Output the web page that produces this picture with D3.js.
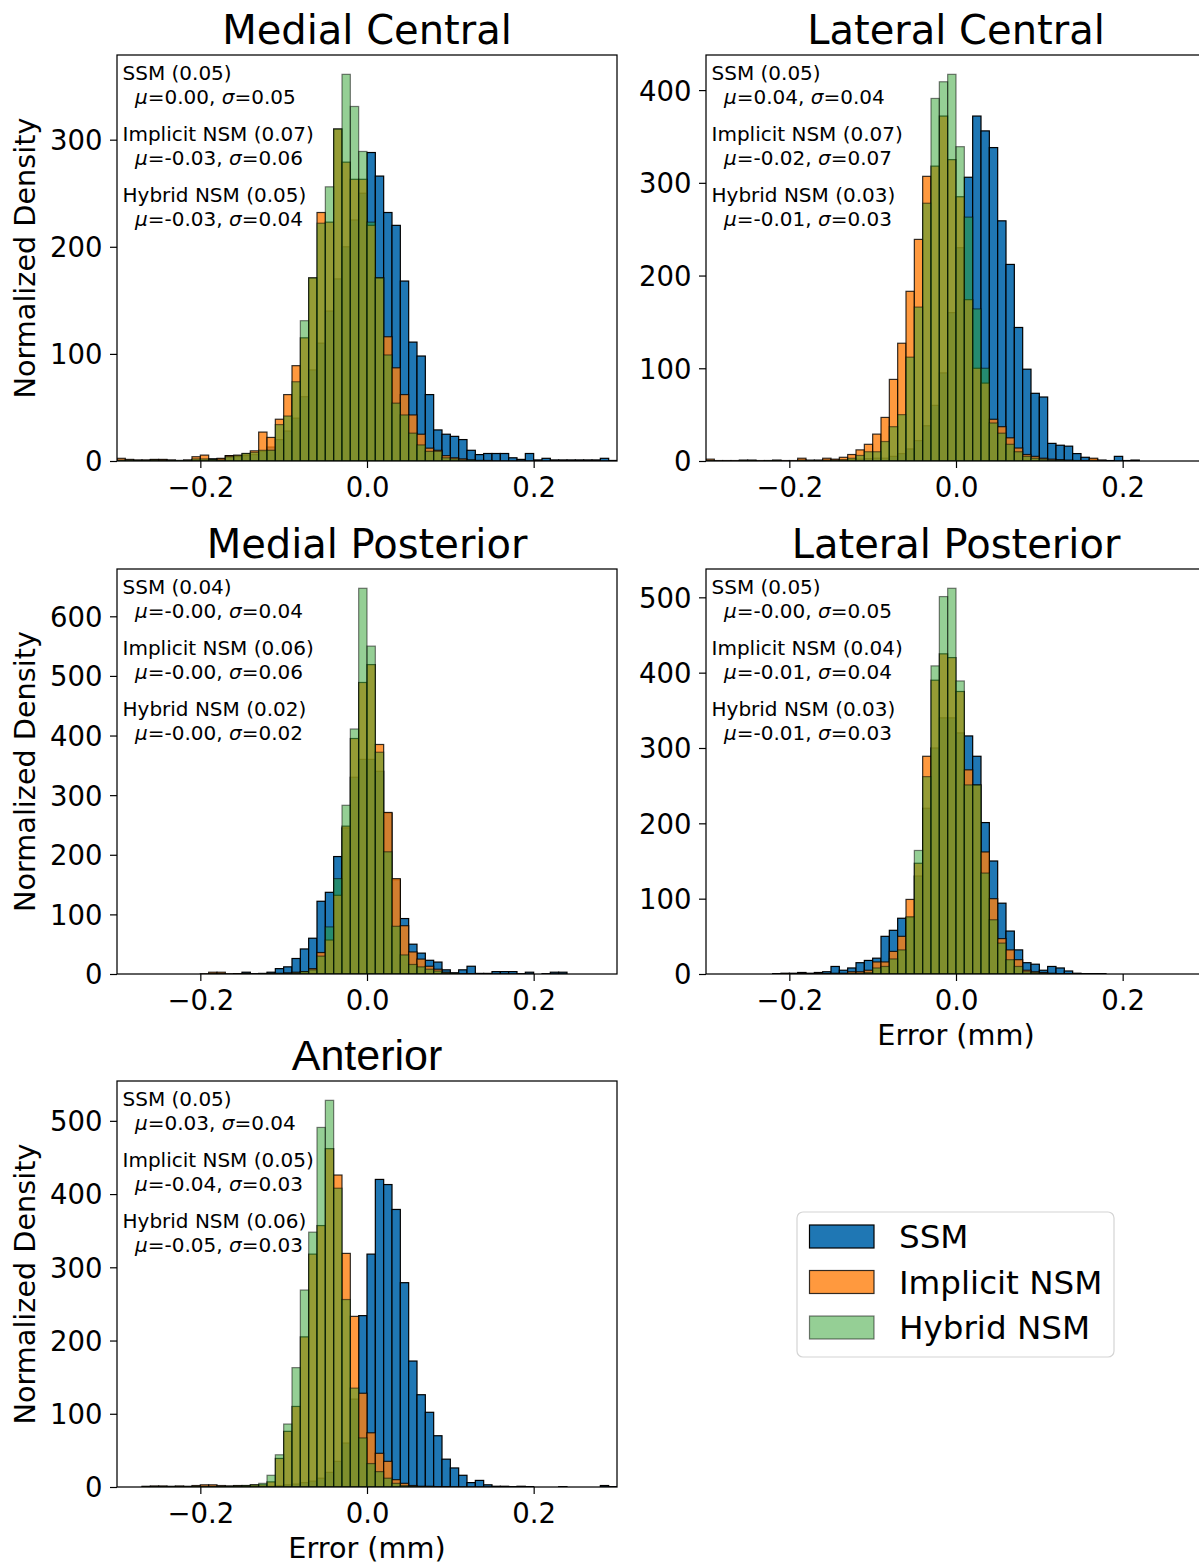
<!DOCTYPE html>
<html>
<head>
<meta charset="utf-8">
<script src="https://cdn.jsdelivr.net/npm/d3@7"></script>
<style>
  html, body { margin: 0; padding: 0; background: #fff; }
  svg { display: block; }
</style>
</head>
<body>
<div id="chart"></div>
<script>
// ---------------- DATA ----------------
// Histogram bins of width 0.01 from -0.30 to 0.30 (60 bins, index 0 = [-0.30,-0.29])
const binWidth = 0.01;
const binLefts = d3.range(60).map(i => Math.round((-0.30 + i * binWidth) * 100) / 100);

const seriesNames = ["SSM", "Implicit NSM", "Hybrid NSM"];
const seriesColors = ["#1f77b4", "#ff7f0e", "#2ca02c"];
const seriesAlpha = [1.0, 0.8, 0.5];

// Medial Central
const mcSSM = [0,0,0.5,0.5,1,1,0.5,0,0.5,1, 1,2,2,5,4,5,6,9,13,20, 28,40,60,85,110,140,170,200,225,250,
  288,266,232,220,168,111,98,62,29,25, 23,20,10,6,7,7,7,3,1.5,7, 1,2.5,1,1,1,1,1,1,2.5,0.5];
const mcImplicit = [2.5,1.5,1,1,1.5,1.5,1,0.5,1,4, 5.5,1.5,2.5,5,5.5,7,9.5,27,22,39, 62,89,115,171,232,223,310,279,263,263,
  220,171,116,87,62,43,25,12,10,5, 3,2,1,0.5,0.5,0,0,0,0,0, 0,0,0,0,0,0,0,0,0,0];
const mcHybrid = [1,1,0.5,0.5,1,0.5,0.5,0.5,0.5,2, 2,1.5,1,4,5,7,8,10,10,34, 42,74,131,171,222,256,310,361,331,289,
  223,171,99,54,43,26,15,9,9,3, 2,1,1,0.5,0,0,0,0,0,0, 0,0,0,0,0,0,0,0,0,0];

// Lateral Central
const lcSSM = [0,0,0,0,0.5,0.5,0,0,0.5,0, 0,1,0,0.5,1,1,1,1.5,2,2.5, 3,3,5,8,13,22,38,60,95,160,
  230,306,372,356,338,259,212,144,99,73, 69,19,17,16,8,4,2,1,0.5,5, 0.5,1,0,0,0,0,0,0,0,0];
const lcImplicit = [2,0.5,0.5,0.5,1,1,0.5,0.5,1,0.5, 0.5,3,1,1,3,2,4,7,12,18, 29,47,88,127,183,239,307,318,372,325,
  285,174,100,84,45,37,25,14,7,5, 3,2,1.5,1,0.5,0.5,3,0.5,0,0, 0,0,0,0,0,0,0,0,0,0];
const lcHybrid = [0.5,0,0,0,0.5,0.5,0,0.5,0.5,0, 0,1,0.5,0.5,1,1,1.5,3,6,10, 10,21,37,50,112,166,278,391,409,417,
  339,263,164,100,41,30,18,10,5,3, 2,1,1,0.5,0.5,0,0.5,0,0,0, 0,0,0,0,0,0,0,0,0,0];

// Medial Posterior
const mpSSM = [0,0,0,0,0,0,0,0,0,0, 0,1,1,0,0.5,3,0.5,1,3,9, 12,26,42,60,122,137,197,245,330,360,
  360,340,270,158,93,50,35,23,20,7, 2,7,13,1,1,4,4,4,0.5,3, 0,0.5,3,3,0,0,0,0,0,0];
const mpImplicit = [0,0,0,0,0,0,0,0,0,0, 0.5,3,3,0.5,0.5,1,0,0.5,1,1, 2,3,4,9,36,57,132,248,395,489,
  519,385,271,160,81,37,25,13,8,3, 1,0.5,0.5,0,0,0,0,0,0,0, 0,0,0,0,0,0,0,0,0,0];
const mpHybrid = [0,0,0,0,0,0,0,0,0,0, 0,0.5,0.5,0,0,0.5,0,0.5,0.5,1, 1,2,4,7,30,79,160,283,411,647,
  550,372,205,80,32,16,12,8,5,2, 1,0,0,0,0,0,0,0,0,0, 0,0,0,0,0,0,0,0,0,0];

// Lateral Posterior
const lpSSM = [0,0,0,0,0,0,0,0,0.5,1, 1,2,1,2,3,10,5,8,15,18, 21,50,58,74,75,130,220,300,340,340,
  320,316,289,201,150,94,57,32,15,13, 5,10,8,4,1,0.5,0.5,0.5,0,0, 0,0,0,0,0,0,0,0,0,0];
const lpImplicit = [0,0,0,0,0,0,0,0,0,0.5, 0,0.5,0,0.5,0.5,1,1,3,3,5, 16,16,30,50,99,147,289,390,425,420,
  375,271,251,162,100,47,32,19,5,3, 2,1,0.5,0.5,0,0,0,0,0,0, 0,0,0,0,0,0,0,0,0,0];
const lpHybrid = [0,0,0,0,0,0,0,0,0,0, 0,0,0,0,0,0.5,0.5,1,1,2, 8,10,20,32,76,164,262,409,501,512,
  389,251,251,134,72,41,19,10,3,2, 1,0.5,0,0,0,0,0,0,0,0, 0,0,0,0,0,0,0,0,0,0];

// Anterior
const anSSM = [0,0,0,0,0,0,0,0,0,0, 0,0.5,0.5,0.5,1,1,1,0.5,1,2, 3,4,6,8,12,20,35,60,120,234,
  318,420,413,379,279,172,126,102,70,38, 26,16,6,9,3,1,1,0.5,1,0.5, 0,0,0,0.5,0,0,0,0,2,0.5];
const anImplicit = [0,0,0,1,1.5,1.5,1,1.5,1,2, 3,3,2,1.5,2,2,3,3,7,39, 76,110,205,318,357,462,426,319,233,128,
  74,46,35,10,5,2,1,1,0.5,0.5, 0,0,0,0,0,0,0,0,0,0, 0,0,0,0,0,0,0,0,0,0];
const anHybrid = [0,0,0,0.5,0.5,0.5,0.5,0.5,0.5,1, 1,1,1,1,1.5,2,3,5,16,44, 86,163,269,348,491,528,408,256,135,67,
  32,21,12,5,2,1,0.5,0.5,0,0, 0,0,0,0,0,0,0,0,0,0, 0,0,0,0,0,0,0,0,0,0];

// Annotation statistics: [rmse, mu, sigma] per series
const mcStats = [["0.05","0.00","0.05"],["0.07","-0.03","0.06"],["0.05","-0.03","0.04"]];
const lcStats = [["0.05","0.04","0.04"],["0.07","-0.02","0.07"],["0.03","-0.01","0.03"]];
const mpStats = [["0.04","-0.00","0.04"],["0.06","-0.00","0.06"],["0.02","-0.00","0.02"]];
const lpStats = [["0.05","-0.00","0.05"],["0.04","-0.01","0.04"],["0.03","-0.01","0.03"]];
const anStats = [["0.05","0.03","0.04"],["0.05","-0.04","0.03"],["0.06","-0.05","0.03"]];

const xDomain = [-0.3, 0.3];
const xTicks = [-0.2, 0.0, 0.2];
const mcYTicks = [0,100,200,300];
const lcYTicks = [0,100,200,300,400];
const mpYTicks = [0,100,200,300,400,500,600];
const lpYTicks = [0,100,200,300,400,500];
const anYTicks = [0,100,200,300,400,500];

// ---------------- LAYOUT ----------------
const W = 1199, H = 1564;
const panels = [
  {title:"Medial Central", data:[mcSSM,mcImplicit,mcHybrid], stats:mcStats, yTicks:mcYTicks,
   box:{x:117,y:55,w:500,h:406}, ylabel:true, xlabel:false, titleFont:"DejaVu Sans", titleSize:40},
  {title:"Lateral Central", data:[lcSSM,lcImplicit,lcHybrid], stats:lcStats, yTicks:lcYTicks,
   box:{x:706,y:55,w:500,h:406}, ylabel:false, xlabel:false, titleFont:"DejaVu Sans", titleSize:40},
  {title:"Medial Posterior", data:[mpSSM,mpImplicit,mpHybrid], stats:mpStats, yTicks:mpYTicks,
   box:{x:117,y:569,w:500,h:405}, ylabel:true, xlabel:false, titleFont:"DejaVu Sans", titleSize:40},
  {title:"Lateral Posterior", data:[lpSSM,lpImplicit,lpHybrid], stats:lpStats, yTicks:lpYTicks,
   box:{x:706,y:569,w:500,h:405}, ylabel:false, xlabel:true, titleFont:"DejaVu Sans", titleSize:40},
  {title:"Anterior", data:[anSSM,anImplicit,anHybrid], stats:anStats, yTicks:anYTicks,
   box:{x:117,y:1081,w:500,h:406}, ylabel:true, xlabel:true, titleFont:"Liberation Sans", titleSize:43}
];

const FONT = "DejaVu Sans, sans-serif";
const tickSize = 27.5, labelSize = 28.7, annSize = 20;

const svg = d3.select("#chart").append("svg")
  .attr("width", W).attr("height", H)
  .attr("viewBox", `0 0 ${W} ${H}`)
  .style("font-family", FONT);
svg.append("rect").attr("width", W).attr("height", H).attr("fill", "#fff");

const defs = svg.append("defs");

panels.forEach((p, pi) => {
  const b = p.box;
  const ymax = d3.max(p.data.flat()) * 1.05;
  const x = d3.scaleLinear().domain(xDomain).range([b.x, b.x + b.w]);
  const y = d3.scaleLinear().domain([0, ymax]).range([b.y + b.h, b.y]);

  defs.append("clipPath").attr("id", "clip" + pi)
    .append("rect").attr("x", b.x).attr("y", b.y).attr("width", b.w).attr("height", b.h);

  const g = svg.append("g");
  const bars = g.append("g").attr("clip-path", `url(#clip${pi})`);

  p.data.forEach((vals, si) => {
    const rows = binLefts.map((l, i) => ({l, v: vals[i]})).filter(d => d.v > 0);
    bars.append("g").selectAll("rect").data(rows).join("rect")
      .attr("x", d => x(d.l))
      .attr("width", d => x(d.l + binWidth) - x(d.l))
      .attr("y", d => y(d.v))
      .attr("height", d => y(0) - y(d.v))
      .attr("fill", seriesColors[si])
      .attr("fill-opacity", seriesAlpha[si])
      .attr("stroke", "#000")
      .attr("stroke-opacity", seriesAlpha[si])
      .attr("stroke-width", 1.2);
  });

  // Axes
  const xAxis = d3.axisBottom(x).tickValues(xTicks).tickSize(7).tickPadding(8)
    .tickFormat(d => (d < 0 ? "\u2212" : "") + Math.abs(d).toFixed(1));
  const gx = g.append("g").attr("transform", `translate(0,${b.y + b.h})`).call(xAxis);
  gx.select(".domain").remove();
  gx.selectAll(".tick line").attr("stroke", "#000").attr("stroke-width", 1.2);
  gx.selectAll(".tick text").attr("font-size", tickSize).attr("font-family", FONT)
    .attr("fill", "#000").attr("dy", null).attr("y", 36);

  const yAxis = d3.axisLeft(y).tickValues(p.yTicks).tickSize(7).tickPadding(7)
    .tickFormat(d3.format("d"));
  const gy = g.append("g").attr("transform", `translate(${b.x},0)`).call(yAxis);
  gy.select(".domain").remove();
  gy.selectAll(".tick line").attr("stroke", "#000").attr("stroke-width", 1.2);
  gy.selectAll(".tick text").attr("font-size", tickSize).attr("font-family", FONT)
    .attr("fill", "#000").attr("dy", "0.36em").attr("x", -14.5);

  // Frame
  g.append("rect").attr("x", b.x).attr("y", b.y).attr("width", b.w).attr("height", b.h)
    .attr("fill", "none").attr("stroke", "#000").attr("stroke-width", 1.25);

  // Title
  g.append("text").attr("x", b.x + b.w / 2).attr("y", b.y - 11)
    .attr("text-anchor", "middle").attr("font-size", p.titleSize)
    .attr("font-family", p.titleFont).attr("fill", "#000").text(p.title);

  if (p.ylabel) {
    g.append("text").attr("transform", `translate(35,${b.y + b.h / 2}) rotate(-90)`)
      .attr("text-anchor", "middle").attr("font-size", labelSize).attr("fill", "#000")
      .text("Normalized Density");
  }
  if (p.xlabel) {
    g.append("text").attr("x", b.x + b.w / 2).attr("y", b.y + b.h + 71)
      .attr("text-anchor", "middle").attr("font-size", labelSize).attr("fill", "#000")
      .text("Error (mm)");
  }

  // Annotations
  const ann = g.append("g").attr("font-size", annSize).attr("fill", "#000");
  p.stats.forEach((s, si) => {
    const by = b.y + 25 + si * 61;
    ann.append("text").attr("x", b.x + 5.5).attr("y", by)
      .text(`${seriesNames[si]} (${s[0]})`);
    const t = ann.append("text").attr("x", b.x + 18).attr("y", by + 24);
    t.append("tspan").attr("font-style", "italic").text("\u03bc");
    t.append("tspan").text(`=${s[1]}, `);
    t.append("tspan").attr("font-style", "italic").text("\u03c3");
    t.append("tspan").text(`=${s[2]}`);
  });
});

// Legend
const leg = svg.append("g");
leg.append("rect").attr("x", 797).attr("y", 1212).attr("width", 317).attr("height", 145)
  .attr("rx", 6).attr("ry", 6).attr("fill", "#fff").attr("fill-opacity", 0.8)
  .attr("stroke", "#d4d4d4").attr("stroke-width", 1.2);
seriesNames.forEach((n, i) => {
  const cy = 1236.5 + i * 45.5;
  leg.append("rect").attr("x", 809.5).attr("y", cy - 11.5).attr("width", 64.5).attr("height", 23)
    .attr("fill", seriesColors[i]).attr("fill-opacity", seriesAlpha[i])
    .attr("stroke", "#000").attr("stroke-opacity", seriesAlpha[i]).attr("stroke-width", 1.2);
  leg.append("text").attr("x", 899).attr("y", cy + 11.5)
    .attr("font-size", 32.6).attr("fill", "#000").text(n);
});
</script>
</body>
</html>
